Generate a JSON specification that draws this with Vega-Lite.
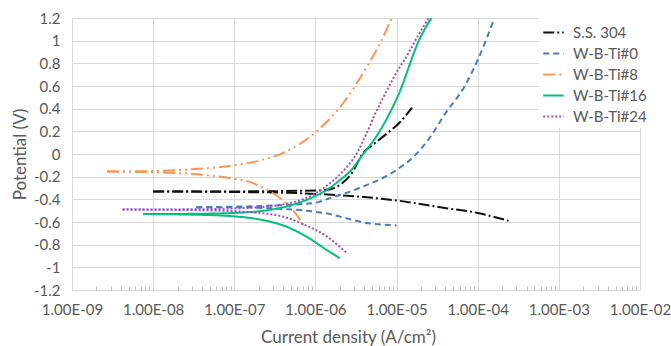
{
  "$schema": "https://vega.github.io/schema/vega-lite/v6.json",
  "width": 568,
  "height": 272,
  "autosize": "none",
  "padding": {"left": 72, "top": 18, "right": 31, "bottom": 56},
  "background": "white",
  "config": {
    "view": {"stroke": null},
    "font": "Lato"
  },
  "data": {
    "values": [
      {"s": "S.S. 304", "b": "c", "i": 2.4e-4, "e": -0.59},
      {"s": "S.S. 304", "b": "c", "i": 1e-4, "e": -0.52},
      {"s": "S.S. 304", "b": "c", "i": 4.3e-5, "e": -0.48},
      {"s": "S.S. 304", "b": "c", "i": 1e-5, "e": -0.41},
      {"s": "S.S. 304", "b": "c", "i": 4e-6, "e": -0.38},
      {"s": "S.S. 304", "b": "c", "i": 1.6e-6, "e": -0.36},
      {"s": "S.S. 304", "b": "c", "i": 6e-7, "e": -0.345},
      {"s": "S.S. 304", "b": "c", "i": 1e-7, "e": -0.335},
      {"s": "S.S. 304", "b": "c", "i": 1e-8, "e": -0.33},
      {"s": "S.S. 304", "b": "a", "i": 1e-8, "e": -0.33},
      {"s": "S.S. 304", "b": "a", "i": 1e-7, "e": -0.33},
      {"s": "S.S. 304", "b": "a", "i": 6e-7, "e": -0.325},
      {"s": "S.S. 304", "b": "a", "i": 1.2e-6, "e": -0.32},
      {"s": "S.S. 304", "b": "a", "i": 1.7e-6, "e": -0.3},
      {"s": "S.S. 304", "b": "a", "i": 2.2e-6, "e": -0.25},
      {"s": "S.S. 304", "b": "a", "i": 2.8e-6, "e": -0.17},
      {"s": "S.S. 304", "b": "a", "i": 3.8e-6, "e": 0.0},
      {"s": "S.S. 304", "b": "a", "i": 5.5e-6, "e": 0.1},
      {"s": "S.S. 304", "b": "a", "i": 7.6e-6, "e": 0.18},
      {"s": "S.S. 304", "b": "a", "i": 1.1e-5, "e": 0.28},
      {"s": "S.S. 304", "b": "a", "i": 1.55e-5, "e": 0.41},

      {"s": "W-B-Ti#0", "b": "c", "i": 1e-5, "e": -0.63},
      {"s": "W-B-Ti#0", "b": "c", "i": 6e-6, "e": -0.62},
      {"s": "W-B-Ti#0", "b": "c", "i": 4e-6, "e": -0.605},
      {"s": "W-B-Ti#0", "b": "c", "i": 2.5e-6, "e": -0.57},
      {"s": "W-B-Ti#0", "b": "c", "i": 1.5e-6, "e": -0.53},
      {"s": "W-B-Ti#0", "b": "c", "i": 1e-6, "e": -0.51},
      {"s": "W-B-Ti#0", "b": "c", "i": 3e-7, "e": -0.48},
      {"s": "W-B-Ti#0", "b": "c", "i": 1e-7, "e": -0.47},
      {"s": "W-B-Ti#0", "b": "c", "i": 3.4e-8, "e": -0.47},
      {"s": "W-B-Ti#0", "b": "a", "i": 3.4e-8, "e": -0.47},
      {"s": "W-B-Ti#0", "b": "a", "i": 1e-7, "e": -0.465},
      {"s": "W-B-Ti#0", "b": "a", "i": 3e-7, "e": -0.455},
      {"s": "W-B-Ti#0", "b": "a", "i": 1e-6, "e": -0.43},
      {"s": "W-B-Ti#0", "b": "a", "i": 1.5e-6, "e": -0.39},
      {"s": "W-B-Ti#0", "b": "a", "i": 3.5e-6, "e": -0.3},
      {"s": "W-B-Ti#0", "b": "a", "i": 1e-5, "e": -0.14},
      {"s": "W-B-Ti#0", "b": "a", "i": 1.7e-5, "e": -0.01},
      {"s": "W-B-Ti#0", "b": "a", "i": 2.6e-5, "e": 0.15},
      {"s": "W-B-Ti#0", "b": "a", "i": 4e-5, "e": 0.36},
      {"s": "W-B-Ti#0", "b": "a", "i": 6.8e-5, "e": 0.59},
      {"s": "W-B-Ti#0", "b": "a", "i": 1e-4, "e": 0.83},
      {"s": "W-B-Ti#0", "b": "a", "i": 1.55e-4, "e": 1.17},

      {"s": "W-B-Ti#8", "b": "c", "i": 7.3e-7, "e": -0.64},
      {"s": "W-B-Ti#8", "b": "c", "i": 5.5e-7, "e": -0.51},
      {"s": "W-B-Ti#8", "b": "c", "i": 4e-7, "e": -0.41},
      {"s": "W-B-Ti#8", "b": "c", "i": 2.3e-7, "e": -0.3},
      {"s": "W-B-Ti#8", "b": "c", "i": 1.6e-7, "e": -0.25},
      {"s": "W-B-Ti#8", "b": "c", "i": 1e-7, "e": -0.22},
      {"s": "W-B-Ti#8", "b": "c", "i": 5e-8, "e": -0.19},
      {"s": "W-B-Ti#8", "b": "c", "i": 1.5e-8, "e": -0.165},
      {"s": "W-B-Ti#8", "b": "c", "i": 2.7e-9, "e": -0.155},
      {"s": "W-B-Ti#8", "b": "a", "i": 2.7e-9, "e": -0.155},
      {"s": "W-B-Ti#8", "b": "a", "i": 1e-8, "e": -0.15},
      {"s": "W-B-Ti#8", "b": "a", "i": 3.7e-8, "e": -0.13},
      {"s": "W-B-Ti#8", "b": "a", "i": 1e-7, "e": -0.1},
      {"s": "W-B-Ti#8", "b": "a", "i": 2e-7, "e": -0.06},
      {"s": "W-B-Ti#8", "b": "a", "i": 4e-7, "e": 0.01},
      {"s": "W-B-Ti#8", "b": "a", "i": 1e-6, "e": 0.19},
      {"s": "W-B-Ti#8", "b": "a", "i": 2.2e-6, "e": 0.45},
      {"s": "W-B-Ti#8", "b": "a", "i": 4.3e-6, "e": 0.77},
      {"s": "W-B-Ti#8", "b": "a", "i": 6.5e-6, "e": 1.0},
      {"s": "W-B-Ti#8", "b": "a", "i": 8.7e-6, "e": 1.2},

      {"s": "W-B-Ti#16", "b": "c", "i": 2e-6, "e": -0.92},
      {"s": "W-B-Ti#16", "b": "c", "i": 1.4e-6, "e": -0.85},
      {"s": "W-B-Ti#16", "b": "c", "i": 7.8e-7, "e": -0.73},
      {"s": "W-B-Ti#16", "b": "c", "i": 4e-7, "e": -0.63},
      {"s": "W-B-Ti#16", "b": "c", "i": 2.5e-7, "e": -0.59},
      {"s": "W-B-Ti#16", "b": "c", "i": 1e-7, "e": -0.55},
      {"s": "W-B-Ti#16", "b": "c", "i": 3e-8, "e": -0.535},
      {"s": "W-B-Ti#16", "b": "c", "i": 7.5e-9, "e": -0.53},
      {"s": "W-B-Ti#16", "b": "a", "i": 7.5e-9, "e": -0.53},
      {"s": "W-B-Ti#16", "b": "a", "i": 3e-8, "e": -0.528},
      {"s": "W-B-Ti#16", "b": "a", "i": 1e-7, "e": -0.52},
      {"s": "W-B-Ti#16", "b": "a", "i": 4e-7, "e": -0.47},
      {"s": "W-B-Ti#16", "b": "a", "i": 1e-6, "e": -0.37},
      {"s": "W-B-Ti#16", "b": "a", "i": 1.5e-6, "e": -0.3},
      {"s": "W-B-Ti#16", "b": "a", "i": 2e-6, "e": -0.23},
      {"s": "W-B-Ti#16", "b": "a", "i": 2.7e-6, "e": -0.15},
      {"s": "W-B-Ti#16", "b": "a", "i": 3.8e-6, "e": -0.01},
      {"s": "W-B-Ti#16", "b": "a", "i": 6.3e-6, "e": 0.21},
      {"s": "W-B-Ti#16", "b": "a", "i": 1.05e-5, "e": 0.52},
      {"s": "W-B-Ti#16", "b": "a", "i": 1.94e-5, "e": 1.02},
      {"s": "W-B-Ti#16", "b": "a", "i": 2.7e-5, "e": 1.2},

      {"s": "W-B-Ti#24", "b": "c", "i": 2.5e-6, "e": -0.88},
      {"s": "W-B-Ti#24", "b": "c", "i": 2e-6, "e": -0.82},
      {"s": "W-B-Ti#24", "b": "c", "i": 1.4e-6, "e": -0.73},
      {"s": "W-B-Ti#24", "b": "c", "i": 7.1e-7, "e": -0.62},
      {"s": "W-B-Ti#24", "b": "c", "i": 3.6e-7, "e": -0.545},
      {"s": "W-B-Ti#24", "b": "c", "i": 1e-7, "e": -0.505},
      {"s": "W-B-Ti#24", "b": "c", "i": 3e-8, "e": -0.495},
      {"s": "W-B-Ti#24", "b": "c", "i": 4.2e-9, "e": -0.49},
      {"s": "W-B-Ti#24", "b": "a", "i": 4.2e-9, "e": -0.49},
      {"s": "W-B-Ti#24", "b": "a", "i": 3e-8, "e": -0.488},
      {"s": "W-B-Ti#24", "b": "a", "i": 1e-7, "e": -0.48},
      {"s": "W-B-Ti#24", "b": "a", "i": 3.6e-7, "e": -0.45},
      {"s": "W-B-Ti#24", "b": "a", "i": 9.3e-7, "e": -0.36},
      {"s": "W-B-Ti#24", "b": "a", "i": 1.5e-6, "e": -0.26},
      {"s": "W-B-Ti#24", "b": "a", "i": 2.2e-6, "e": -0.15},
      {"s": "W-B-Ti#24", "b": "a", "i": 3.2e-6, "e": 0.0},
      {"s": "W-B-Ti#24", "b": "a", "i": 4.2e-6, "e": 0.17},
      {"s": "W-B-Ti#24", "b": "a", "i": 5.5e-6, "e": 0.36},
      {"s": "W-B-Ti#24", "b": "a", "i": 7.6e-6, "e": 0.56},
      {"s": "W-B-Ti#24", "b": "a", "i": 1e-5, "e": 0.72},
      {"s": "W-B-Ti#24", "b": "a", "i": 1.35e-5, "e": 0.87},
      {"s": "W-B-Ti#24", "b": "a", "i": 1.86e-5, "e": 1.05},
      {"s": "W-B-Ti#24", "b": "a", "i": 2.5e-5, "e": 1.2}
    ]
  },
  "mark": {"type": "line", "strokeWidth": 2, "clip": true, "interpolate": "monotone"},
  "encoding": {
    "x": {
      "field": "i",
      "type": "quantitative",
      "scale": {"type": "log", "domain": [1e-9, 1e-2], "nice": false},
      "axis": {
        "title": "Current density  (A/cm²)",
        "titleFont": "Lato",
        "titleFontSize": 17,
        "titleFontWeight": "normal",
        "titleColor": "#595959",
        "titleX": 276,
        "titleY": 52,
        "titleBaseline": "alphabetic",
        "values": [1e-9, 2e-9, 3e-9, 4e-9, 5e-9, 6e-9, 7e-9, 8e-9, 9e-9,
                   1e-8, 2e-8, 3e-8, 4e-8, 5e-8, 6e-8, 7e-8, 8e-8, 9e-8,
                   1e-7, 2e-7, 3e-7, 4e-7, 5e-7, 6e-7, 7e-7, 8e-7, 9e-7,
                   1e-6, 2e-6, 3e-6, 4e-6, 5e-6, 6e-6, 7e-6, 8e-6, 9e-6,
                   1e-5, 2e-5, 3e-5, 4e-5, 5e-5, 6e-5, 7e-5, 8e-5, 9e-5,
                   1e-4, 2e-4, 3e-4, 4e-4, 5e-4, 6e-4, 7e-4, 8e-4, 9e-4,
                   1e-3, 2e-3, 3e-3, 4e-3, 5e-3, 6e-3, 7e-3, 8e-3, 9e-3, 1e-2],
        "labelExpr": "abs(log(datum.value)/LN10 - round(log(datum.value)/LN10)) < 0.01 ? '1.00E-' + (abs(round(log(datum.value)/LN10)) < 10 ? '0' : '') + abs(round(log(datum.value)/LN10)) : ''",
        "labelOverlap": false,
        "labelFlush": false,
        "labelFont": "Lato",
        "labelFontSize": 15,
        "labelColor": "#595959",
        "labelPadding": 16,
        "domain": false,
        "grid": true,
        "gridColor": "#d9d9d9",
        "gridWidth": 1,
        "gridOpacity": {"condition": {"test": "abs(log(datum.value)/LN10 - round(log(datum.value)/LN10)) < 0.01", "value": 1}, "value": 0},
        "ticks": true,
        "tickSize": -4,
        "tickColor": "#bfbfbf",
        "tickOpacity": {"condition": {"test": "abs(log(datum.value)/LN10 - round(log(datum.value)/LN10)) < 0.01", "value": 0}, "value": 1}
      }
    },
    "y": {
      "field": "e",
      "type": "quantitative",
      "scale": {"domain": [-1.2, 1.2], "nice": false},
      "axis": {
        "title": "Potential (V)",
        "titleFont": "Lato",
        "titleFontSize": 17,
        "titleFontWeight": "normal",
        "titleColor": "#595959",
        "titleX": -47,
        "titleY": 136,
        "titleAngle": -90,
        "titleAlign": "center",
        "titleBaseline": "alphabetic",
        "values": [-1.2, -1, -0.8, -0.6, -0.4, -0.2, 0, 0.2, 0.4, 0.6, 0.8, 1, 1.2],
        "labelExpr": "datum.value < 0 ? '-' + format(-datum.value, '~g') : format(datum.value, '~g')",
        "labelFont": "Lato",
        "labelFontSize": 15,
        "labelColor": "#595959",
        "labelPadding": 12,
        "domain": false,
        "ticks": false,
        "grid": true,
        "gridColor": "#d9d9d9"
      }
    },
    "detail": {"field": "b", "type": "nominal"},
    "order": {"field": "i", "type": "quantitative"},
    "color": {
      "field": "s",
      "type": "nominal",
      "scale": {
        "domain": ["S.S. 304", "W-B-Ti#0", "W-B-Ti#8", "W-B-Ti#16", "W-B-Ti#24"],
        "range": ["#111111", "#4A7EBB", "#F99655", "#00C07A", "#9A4EC6"]
      },
      "legend": {
        "title": null,
        "orient": "none",
        "legendX": 467,
        "legendY": 0,
        "fillColor": "white",
        "padding": 3,
        "symbolType": "stroke",
        "symbolStrokeWidth": 2,
        "symbolSize": 420,
        "rowPadding": 1,
        "labelOffset": 8,
        "labelFont": "Lato",
        "labelFontSize": 15,
        "labelColor": "#595959"
      }
    },
    "strokeDash": {
      "field": "s",
      "type": "nominal",
      "scale": {
        "domain": ["S.S. 304", "W-B-Ti#0", "W-B-Ti#8", "W-B-Ti#16", "W-B-Ti#24"],
        "range": [[11, 3, 2, 3], [6, 4], [12, 4, 2, 4, 2, 4], [1, 0], [2, 2]]
      },
      "legend": {
        "title": null,
        "orient": "none",
        "legendX": 467,
        "legendY": 0,
        "fillColor": "white",
        "padding": 3,
        "symbolType": "stroke",
        "symbolStrokeWidth": 2,
        "symbolSize": 420,
        "rowPadding": 1,
        "labelOffset": 8,
        "labelFont": "Lato",
        "labelFontSize": 15,
        "labelColor": "#595959"
      }
    }
  }
}
